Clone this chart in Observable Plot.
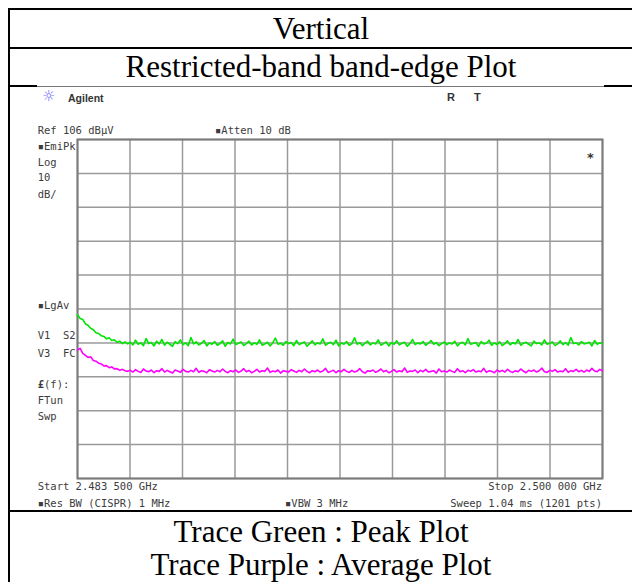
<!DOCTYPE html>
<html><head><meta charset="utf-8">
<script src="https://cdn.jsdelivr.net/npm/d3@7"></script>
<script src="https://cdn.jsdelivr.net/npm/@observablehq/plot@0.6"></script>
<style>
body{margin:0;background:#fff;}
#page{position:relative;width:632px;height:582px;overflow:hidden;background:#fff;}
.hl{position:absolute;background:#000;}
.t{position:absolute;font-family:"Liberation Serif","Times New Roman",serif;font-size:31px;line-height:31px;text-align:center;left:9px;width:624px;color:#000;white-space:nowrap;}
.m{position:absolute;font-family:"DejaVu Sans Mono",monospace;font-size:10.5px;line-height:10.5px;color:#3c3c3c;white-space:pre;}
.b{position:absolute;font-family:"Liberation Sans",Arial,sans-serif;font-weight:bold;font-size:10.5px;line-height:10.5px;color:#333;white-space:pre;}
#chart{position:absolute;left:0;top:119px;}
</style></head>
<body>
<div id="page">
  <div class="hl" style="left:8px;top:8px;width:624px;height:2px"></div>
  <div class="hl" style="left:8px;top:46.7px;width:624px;height:2px"></div>
  <div class="hl" style="left:8px;top:85px;width:29px;height:2px"></div>
  <div class="hl" style="left:604px;top:85px;width:28px;height:2px"></div>
  <div class="hl" style="left:37px;top:85.5px;width:567px;height:1px;background:#777"></div>
  <div class="hl" style="left:8px;top:510px;width:624px;height:2px"></div>
  <div class="hl" style="left:8px;top:8px;width:2px;height:574px"></div>

  <div class="t" style="top:13px">Vertical</div>
  <div class="t" style="top:51.3px">Restricted-band band-edge Plot</div>
  <div class="t" style="top:515.7px">Trace Green : Peak Plot</div>
  <div class="t" style="top:549px">Trace Purple : Average Plot</div>

  <div style="position:absolute;left:42px;top:89px;font-family:'DejaVu Sans',sans-serif;font-size:15px;line-height:15px;font-weight:bold;color:#6a6aff">☼</div>
  <div class="b" style="left:68px;top:92.5px">Agilent</div>
  <div class="b" style="left:447px;top:91.7px;font-size:11px">R</div>
  <div class="b" style="left:474px;top:91.7px;font-size:11px">T</div>

  <div class="m" style="left:37.7px;top:125.1px">Ref 106 dBµV</div>
  <div class="m" style="left:215px;top:125.1px">▪Atten 10 dB</div>
  <div class="m" style="left:37.7px;top:140.6px">▪EmiPk</div>
  <div class="m" style="left:37.7px;top:157.4px">Log</div>
  <div class="m" style="left:37.7px;top:172.4px">10</div>
  <div class="m" style="left:37.7px;top:188.6px">dB/</div>
  <div class="m" style="left:37.7px;top:300.4px">▪LgAv</div>
  <div class="m" style="left:37.7px;top:330.4px">V1  S2</div>
  <div class="m" style="left:37.7px;top:347.8px">V3  FC</div>
  <div class="m" style="left:37.7px;top:379.1px"><b>£</b>(f):</div>
  <div class="m" style="left:37.7px;top:395.1px">FTun</div>
  <div class="m" style="left:37.7px;top:411.1px">Swp</div>
  <div class="m" style="left:37.7px;top:481.1px">Start 2.483 500 GHz</div>
  <div class="m" style="left:37.7px;top:497.6px">▪Res BW (CISPR) 1 MHz</div>
  <div class="m" style="left:285px;top:497.6px">▪VBW 3 MHz</div>
  <div class="m" style="right:30px;top:481.1px">Stop 2.500 000 GHz</div>
  <div class="m" style="right:30px;top:497.6px">Sweep 1.04 ms (1201 pts)</div>
</div>
<script>
// Sweep (MHz) and display settings
const sweepStart = 2483.5;
const sweepStop = 2500;
const gridFreqs = [2483.5, 2485.15, 2486.8, 2488.45, 2490.1, 2491.75, 2493.4, 2495.05, 2496.7, 2498.35, 2500];
const gridLevels = [6, 16, 26, 36, 46, 56, 66, 76, 86, 96, 106];

// Peak trace (green), dBµV
const peakTrace = [
54.3,53.2,52.9,51.6,51.2,50.3,49.9,49.0,48.8,48.1,47.9,47.2,47.5,46.7,46.9,46.2,46.5,45.8,46.3,45.7,
46.2,45.4,46.8,45.6,46.0,45.2,47.3,45.8,46.1,45.1,46.5,45.7,47.0,45.3,46.2,45.6,45.0,46.4,45.8,46.9,
45.5,46.0,45.2,47.6,45.7,46.3,45.4,45.9,46.7,45.1,46.0,45.6,46.4,45.3,45.8,46.6,45.0,46.1,45.7,47.1,
45.5,45.9,46.3,45.2,45.8,46.5,45.4,46.0,45.6,46.9,45.3,45.7,46.2,45.1,46.0,47.4,45.6,45.9,45.3,46.4,
45.8,46.1,45.2,46.7,45.5,45.9,46.3,45.0,45.8,46.6,45.4,46.0,45.7,47.2,45.3,45.9,46.2,45.5,46.8,45.1,
46.0,45.6,46.4,45.3,45.8,47.5,45.6,46.1,45.2,45.9,46.5,45.4,46.0,45.7,46.9,45.3,45.8,46.3,45.1,46.1,
45.6,46.6,45.4,45.9,46.2,45.0,45.8,47.0,45.5,46.0,45.7,46.4,45.3,45.9,46.7,45.6,46.1,45.2,45.8,46.3,
45.5,46.0,45.7,46.5,45.1,45.9,46.2,45.4,47.3,45.6,45.8,46.1,45.0,46.4,45.7,45.9,46.8,45.3,46.0,45.5,
46.3,45.2,45.8,46.6,45.4,46.1,45.7,47.0,45.3,45.9,46.2,45.6,45.1,46.5,45.8,46.0,45.4,46.9,45.6,45.9,
46.3,45.2,45.7,46.6,45.5,46.1,45.3,47.6,45.8,46.0,45.4,46.4,45.7,45.9,46.2,45.1,46.7,45.6,46.0,45.8
];
// Average trace (magenta), dBµV
const avgTrace = [
43.9,44.4,42.9,42.3,41.7,41.9,40.8,40.6,40.0,39.8,39.2,39.3,38.7,38.9,38.3,38.4,37.9,38.2,37.8,37.6,
37.9,37.4,38.1,37.6,37.3,38.3,37.7,37.5,38.0,37.2,37.8,37.6,38.4,37.4,37.9,37.5,37.1,38.0,37.7,37.3,
38.2,37.6,37.4,37.9,37.5,38.5,37.3,37.8,37.6,37.2,38.1,37.7,37.4,37.9,37.5,38.3,37.6,37.2,37.8,37.5,
38.0,37.3,37.7,38.4,37.5,37.9,37.2,37.6,38.2,37.4,37.8,37.6,38.6,37.3,37.7,37.5,38.0,37.1,37.8,37.6,
37.4,38.1,37.7,37.3,37.9,37.5,38.3,37.6,37.2,37.8,37.5,38.0,37.4,37.7,38.5,37.3,37.6,37.9,37.2,37.8,
37.5,38.2,37.6,37.3,37.9,37.4,37.7,38.4,37.5,37.1,37.8,37.6,38.0,37.3,37.7,38.3,37.5,37.9,37.2,37.6,
38.1,37.4,37.8,37.5,38.6,37.3,37.7,37.6,38.0,37.2,37.9,37.5,38.2,37.4,37.6,37.8,37.1,38.3,37.5,37.7,
37.4,38.0,37.6,37.3,38.4,37.5,37.8,37.2,37.9,37.6,38.1,37.4,37.7,37.5,38.5,37.3,37.8,37.6,37.2,38.0,
37.5,37.9,37.4,38.2,37.6,37.3,37.8,37.5,38.3,37.7,37.2,37.9,37.6,38.0,37.4,37.8,38.6,37.5,37.3,37.9,
37.6,38.1,37.4,37.7,37.5,38.4,37.3,37.8,37.6,38.2,37.5,37.9,37.4,38.0,37.6,38.5,37.7,37.5,38.2,37.8
];
// Marker
const markerFreq = [2499.62];
const markerLevel = [100.6];

const freqAt = (i, n) => sweepStart + i * (sweepStop - sweepStart) / (n - 1);
const peakData = peakTrace.map((v, i) => ({f: freqAt(i, peakTrace.length), v}));
const avgData = avgTrace.map((v, i) => ({f: freqAt(i, avgTrace.length), v}));
const markerData = markerFreq.map((f, i) => ({f, v: markerLevel[i]}));

const chart = Plot.plot({
  width: 632,
  height: 380,
  marginLeft: 77,
  marginRight: 30,
  marginTop: 20,
  marginBottom: 21,
  x: {domain: [sweepStart, sweepStop], axis: null},
  y: {domain: [6, 106], axis: null},
  style: {background: "transparent", overflow: "visible"},
  marks: [
    Plot.ruleX(gridFreqs, {stroke: "#9a9a9a", strokeWidth: 1.5}),
    Plot.ruleY(gridLevels, {stroke: "#9a9a9a", strokeWidth: 1.5}),
    Plot.frame({stroke: "#7a7a7a", strokeWidth: 2}),
    Plot.line(peakData, {x: "f", y: "v", stroke: "#00e600", strokeWidth: 1.6}),
    Plot.line(avgData, {x: "f", y: "v", stroke: "#ff00ff", strokeWidth: 1.6}),
    Plot.text(markerData, {x: "f", y: "v", text: () => "*", fontSize: 13, fontWeight: "bold", fill: "#333", fontFamily: "DejaVu Sans Mono"})
  ]
});
chart.id = "chart";
document.getElementById("page").appendChild(chart);
</script>
</body></html>
